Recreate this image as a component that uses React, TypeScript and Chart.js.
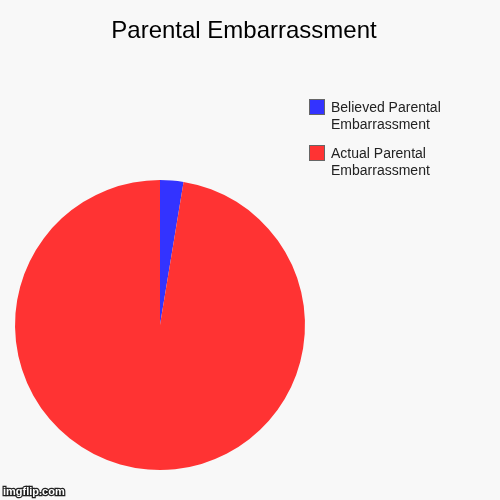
import { useEffect, useRef } from 'react';
import Chart from 'chart.js/auto';

const title = 'Parental Embarrassment';
const labels = [
  ['Believed Parental', 'Embarrassment'],
  ['Actual Parental', 'Embarrassment'],
];
const values = [2.6, 97.4];
const colors = ['#3333ff', '#ff3333'];

export default function App() {
  const chartRef = useRef<HTMLCanvasElement>(null);
  const chartInstance = useRef<Chart | null>(null);

  useEffect(() => {
    document.body.style.margin = '0';
    if (!chartRef.current) return;
    const ctx = chartRef.current.getContext('2d');
    if (!ctx) return;
    if (chartInstance.current) chartInstance.current.destroy();

    // title, legend and background drawn by hand (imgflip style)
    const decor = {
      id: 'decor',
      beforeDraw(chart: Chart) {
        const c = chart.ctx;
        c.save();
        c.fillStyle = '#f8f8f8';
        c.fillRect(0, 0, chart.width, chart.height);
        c.restore();
      },
      afterDraw(chart: Chart) {
        const c = chart.ctx;
        c.save();
        c.fillStyle = '#000';
        c.font = '24px "Liberation Sans", Arial, sans-serif';
        c.textAlign = 'center';
        c.textBaseline = 'alphabetic';
        c.fillText(title, 244, 38);

        c.font = '14px "Liberation Sans", Arial, sans-serif';
        c.textAlign = 'left';
        labels.forEach((lines, i) => {
          const y = 99 + i * 46;
          c.fillStyle = colors[i];
          c.fillRect(309, y, 16, 16);
          c.strokeStyle = '#666';
          c.lineWidth = 1;
          c.strokeRect(309.5, y + 0.5, 15, 15);
          c.fillStyle = '#222';
          lines.forEach((t, j) => c.fillText(t, 331, y + 13 + j * 17));
        });

        c.font = 'bold 11px "Liberation Sans", Arial, sans-serif';
        c.lineWidth = 2.5;
        c.strokeStyle = '#222';
        c.strokeText('imgflip.com', 3, 495);
        c.fillStyle = '#fff';
        c.fillText('imgflip.com', 3, 495);
        c.restore();
      },
    };

    chartInstance.current = new Chart(ctx, {
      type: 'pie',
      data: {
        labels: labels.map((l) => l.join(' ')),
        datasets: [
          {
            data: values,
            backgroundColor: colors,
            borderWidth: 0,
          },
        ],
      },
      options: {
        responsive: false,
        animation: false,
        devicePixelRatio: 1,
        layout: {
          padding: { left: 15, top: 180, right: 195, bottom: 30 },
        },
        plugins: {
          legend: { display: false },
          title: { display: false },
          tooltip: { enabled: false },
        },
      },
      plugins: [decor],
    });

    return () => {
      if (chartInstance.current) {
        chartInstance.current.destroy();
        chartInstance.current = null;
      }
    };
  }, []);

  return (
    <div style={{ width: 500, height: 500 }}>
      <canvas ref={chartRef} width={500} height={500}></canvas>
    </div>
  );
}
